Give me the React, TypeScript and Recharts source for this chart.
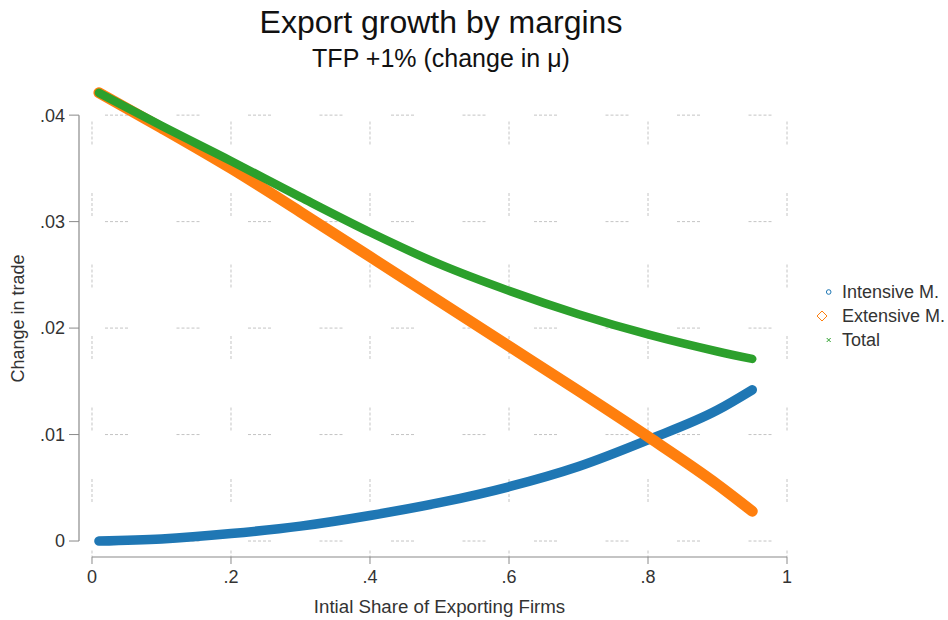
import React from 'react';
import { LineChart, Line, XAxis, YAxis, CartesianGrid, ReferenceLine, Legend } from 'recharts';

// initial share of exporting firms
const share = [0.01, 0.1, 0.2, 0.3, 0.4, 0.5, 0.6, 0.7, 0.8, 0.9, 0.95];
// change in trade by margin
const intensive = [0.0, 0.0002, 0.0007, 0.0014, 0.0024, 0.0036, 0.0051, 0.007, 0.0095, 0.0123, 0.0142];
const extensive = [0.0421, 0.0388, 0.035, 0.0309, 0.0267, 0.0225, 0.0183, 0.0141, 0.0098, 0.0053, 0.0028];
const total = [0.0421, 0.039, 0.0357, 0.0323, 0.029, 0.026, 0.0235, 0.0213, 0.0194, 0.0178, 0.0171];

const xTicks = [0, 0.2, 0.4, 0.6, 0.8, 1];
const yTicks = [0, 0.01, 0.02, 0.03, 0.04];
const seriesKeys = ['intensive', 'extensive', 'total'];
const seriesNames = ['Intensive M.', 'Extensive M.', 'Total'];
const seriesColors = ['#1f77b4', '#ff7f0e', '#2ca02c'];

const data = share.map((s, i) => ({
  share: s,
  intensive: intensive[i],
  extensive: extensive[i],
  total: total[i],
}));

const X_DOMAIN: [number, number] = [-0.0187, 1.0187];
const Y_DOMAIN: [number, number] = [-0.0015, 0.0433];

const FONT = '"Liberation Sans", Arial, Helvetica, sans-serif';
const AXIS_GRAY = '#8a8a8a';
const TEXT = '#333';
const GRID_DASH = '3 2 3 2 3 2 3 2 3 48.5';

const fmt = (v: number) => (v === 0 ? '0' : String(v).replace(/^0\./, '.'));

const hLine = (p: any) => (
  <line
    key={p.key}
    x1={p.x1}
    y1={p.y1}
    x2={p.x2}
    y2={p.y2}
    stroke="#c4c4c4"
    strokeWidth={1}
    strokeDasharray={GRID_DASH}
    strokeDashoffset={45.5}
  />
);

const vLine = (p: any) => (
  <line
    key={p.key}
    x1={p.x1}
    y1={p.y1}
    x2={p.x2}
    y2={p.y2}
    stroke="#c4c4c4"
    strokeWidth={1}
    strokeDasharray={GRID_DASH}
    strokeDashoffset={30}
  />
);

const renderLegend = (props: any) => {
  const items = [...(props.payload || [])].sort(
    (a: any, b: any) => seriesKeys.indexOf(a.dataKey) - seriesKeys.indexOf(b.dataKey)
  );
  return (
    <svg width={138} height={76} style={{ display: 'block' }}>
      {items.map((item: any, i: number) => {
        const y = 12 + i * 24;
        const c = item.color;
        let marker;
        if (item.dataKey === 'intensive') {
          marker = <circle cx={18.7} cy={y} r={2.3} fill="none" stroke={c} strokeWidth={1} />;
        } else if (item.dataKey === 'extensive') {
          marker = (
            <polygon
              points={`12,${y - 5} 17,${y} 12,${y + 5} 7,${y}`}
              fill="none"
              stroke={c}
              strokeWidth={1}
            />
          );
        } else {
          marker = (
            <g stroke={c} strokeWidth={1}>
              <line x1={16.7} y1={y - 2} x2={20.7} y2={y + 2} />
              <line x1={16.7} y1={y + 2} x2={20.7} y2={y - 2} />
            </g>
          );
        }
        return (
          <g key={item.dataKey}>
            {marker}
            <text x={32} y={y} dy="0.35em" fontSize={18} fill={TEXT} fontFamily={FONT}>
              {item.value}
            </text>
          </g>
        );
      })}
    </svg>
  );
};

export default function App() {
  return (
    <div
      style={{
        position: 'absolute',
        left: 0,
        top: 0,
        width: 948,
        height: 620,
        background: '#fff',
        fontFamily: FONT,
      }}
    >
      <div
        style={{
          position: 'absolute',
          left: 0,
          top: 6,
          width: 882,
          textAlign: 'center',
          fontSize: 32,
          lineHeight: '32px',
          color: '#111',
        }}
      >
        Export growth by margins
      </div>
      <div
        style={{
          position: 'absolute',
          left: 0,
          top: 46,
          width: 882,
          textAlign: 'center',
          fontSize: 25,
          lineHeight: '25px',
          color: '#111',
        }}
      >
        TFP +1% (change in μ)
      </div>
      <LineChart
        width={948}
        height={620}
        data={data}
        margin={{ top: 80, right: 148, bottom: 6, left: 10 }}
        style={{ position: 'absolute', left: 0, top: 0 }}
      >
        <CartesianGrid horizontal={hLine} vertical={vLine} syncWithTicks />
        <XAxis
          type="number"
          dataKey="share"
          domain={X_DOMAIN}
          ticks={xTicks}
          tickFormatter={fmt}
          axisLine={false}
          tickLine={{ stroke: AXIS_GRAY }}
          tickSize={7}
          tickMargin={6}
          height={57}
          tick={{ fill: TEXT, fontSize: 18 }}
          label={{
            value: 'Intial Share of Exporting Firms',
            position: 'insideBottom',
            offset: 1,
            fill: TEXT,
            fontSize: 18.7,
          }}
        />
        <YAxis
          type="number"
          domain={Y_DOMAIN}
          ticks={yTicks}
          tickFormatter={fmt}
          axisLine={false}
          tickLine={{ stroke: AXIS_GRAY }}
          tickSize={10}
          tickMargin={4}
          width={69}
          tick={{ fill: TEXT, fontSize: 18 }}
          label={{
            value: 'Change in trade',
            angle: -90,
            position: 'insideLeft',
            offset: 8,
            fill: TEXT,
            fontSize: 18,
            style: { textAnchor: 'middle' },
          }}
        />
        <ReferenceLine
          segment={[
            { x: 0, y: Y_DOMAIN[0] },
            { x: 1, y: Y_DOMAIN[0] },
          ]}
          stroke={AXIS_GRAY}
          strokeWidth={1.2}
          ifOverflow="visible"
        />
        <ReferenceLine
          segment={[
            { x: X_DOMAIN[0], y: 0 },
            { x: X_DOMAIN[0], y: 0.04 },
          ]}
          stroke={AXIS_GRAY}
          strokeWidth={1.2}
          ifOverflow="visible"
        />
        <Line
          type="monotone"
          dataKey="intensive"
          name={seriesNames[0]}
          stroke={seriesColors[0]}
          strokeWidth={9.5}
          strokeLinecap="round"
          dot={false}
          activeDot={false}
          isAnimationActive={false}
        />
        <Line
          type="monotone"
          dataKey="extensive"
          name={seriesNames[1]}
          stroke={seriesColors[1]}
          strokeWidth={11}
          strokeLinecap="round"
          dot={false}
          activeDot={false}
          isAnimationActive={false}
        />
        <Line
          type="monotone"
          dataKey="total"
          name={seriesNames[2]}
          stroke={seriesColors[2]}
          strokeWidth={8.5}
          strokeLinecap="round"
          dot={false}
          activeDot={false}
          isAnimationActive={false}
        />
        <Legend
          layout="horizontal"
          align="center"
          verticalAlign="middle"
          content={renderLegend}
          wrapperStyle={{ left: 810, top: 280, width: 138, height: 76 }}
        />
      </LineChart>
    </div>
  );
}
